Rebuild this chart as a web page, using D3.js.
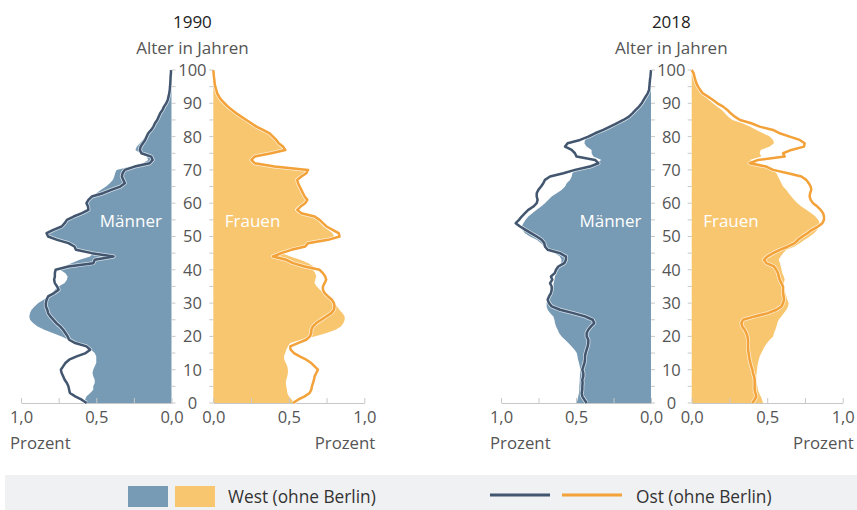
<!DOCTYPE html>
<html>
<head>
<meta charset="utf-8">
<script src="https://cdn.jsdelivr.net/npm/d3@7"></script>
<style>
  body { margin: 0; background: #fff; }
  svg { display: block; font-family: "Open Sans", sans-serif; }
</style>
</head>
<body>
<svg id="chart" width="857" height="510"></svg>
<script>
// ages 0..100, one value (percent of total population) per single year of age
const ages = d3.range(0, 101);
const ageLabels = [0, 10, 20, 30, 40, 50, 60, 70, 80, 90, 100];
const ageTicks = [0, 5, 10, 15, 20, 25, 30, 35, 40, 45, 50, 55, 60, 65, 70, 75, 80, 85, 90, 95, 100];
const xTicks = [0, 0.25, 0.5, 0.75, 1];
const xLabels = { 0: "0,0", 0.5: "0,5", 1: "1,0" };
const years = ["1990", "2018"];

const west1990M = [
  0.564, 0.575, 0.564, 0.54, 0.52, 0.52, 0.51, 0.51, 0.52, 0.525,
  0.52, 0.51, 0.50, 0.50, 0.50, 0.51, 0.535, 0.56, 0.63, 0.685,
  0.73, 0.79, 0.845, 0.89, 0.92, 0.94, 0.945, 0.94, 0.93, 0.91,
  0.885, 0.85, 0.82, 0.795, 0.775, 0.75, 0.71, 0.695, 0.69, 0.705,
  0.74, 0.71, 0.665, 0.61, 0.54, 0.525, 0.63, 0.645, 0.685, 0.755,
  0.815, 0.82, 0.78, 0.73, 0.71, 0.695, 0.65, 0.585, 0.55, 0.555,
  0.565, 0.55, 0.525, 0.50, 0.47, 0.435, 0.41, 0.39, 0.38, 0.375,
  0.365, 0.275, 0.19, 0.155, 0.165, 0.205, 0.24, 0.23, 0.21, 0.19,
  0.175, 0.155, 0.14, 0.125, 0.11, 0.095, 0.085, 0.075, 0.065, 0.05,
  0.035, 0.025, 0.016, 0.014, 0.012, 0.01, 0.009, 0.008, 0.006, 0.005, 0.003
];
const ost1990M = [
  0.564, 0.597, 0.64, 0.675, 0.68, 0.685, 0.695, 0.71, 0.72, 0.73,
  0.735, 0.72, 0.705, 0.68, 0.63, 0.57, 0.54, 0.565, 0.64, 0.68,
  0.69, 0.705, 0.72, 0.74, 0.765, 0.785, 0.805, 0.82, 0.825, 0.835,
  0.835, 0.83, 0.82, 0.78, 0.75, 0.76, 0.775, 0.78, 0.775, 0.775,
  0.77, 0.685, 0.52, 0.51, 0.385, 0.53, 0.635, 0.645, 0.685, 0.76,
  0.82, 0.83, 0.785, 0.73, 0.71, 0.695, 0.65, 0.595, 0.552, 0.555,
  0.565, 0.552, 0.53, 0.455, 0.40, 0.34, 0.31, 0.32, 0.33, 0.325,
  0.31, 0.245, 0.145, 0.125, 0.135, 0.20, 0.21, 0.205, 0.19, 0.175,
  0.165, 0.155, 0.135, 0.12, 0.11, 0.095, 0.085, 0.075, 0.06, 0.05,
  0.035, 0.025, 0.02, 0.015, 0.012, 0.01, 0.008, 0.007, 0.006, 0.004, 0.003
];
const west1990F = [
  0.54, 0.52, 0.50, 0.49, 0.488, 0.483, 0.48, 0.483, 0.49, 0.494,
  0.494, 0.49, 0.48, 0.47, 0.468, 0.476, 0.483, 0.494, 0.51, 0.58,
  0.67, 0.75, 0.81, 0.845, 0.862, 0.87, 0.87, 0.855, 0.835, 0.82,
  0.80, 0.78, 0.76, 0.735, 0.705, 0.685, 0.67, 0.675, 0.682, 0.675,
  0.66, 0.665, 0.63, 0.575, 0.51, 0.455, 0.51, 0.60, 0.62, 0.745,
  0.80, 0.79, 0.76, 0.73, 0.71, 0.69, 0.66, 0.57, 0.54, 0.56,
  0.60, 0.615, 0.60, 0.59, 0.585, 0.575, 0.57, 0.565, 0.585, 0.61,
  0.62, 0.40, 0.28, 0.26, 0.28, 0.36, 0.46, 0.45, 0.43, 0.415,
  0.39, 0.37, 0.33, 0.285, 0.252, 0.219, 0.185, 0.152, 0.124, 0.097,
  0.075, 0.053, 0.038, 0.026, 0.02, 0.013, 0.009, 0.007, 0.004, 0.002, 0
];
const ost1990F = [
  0.528, 0.561, 0.605, 0.638, 0.649, 0.653, 0.66, 0.667, 0.671, 0.682,
  0.693, 0.671, 0.649, 0.616, 0.572, 0.534, 0.512, 0.51, 0.56, 0.615,
  0.64, 0.649, 0.649, 0.66, 0.682, 0.715, 0.748, 0.781, 0.799, 0.803,
  0.799, 0.786, 0.76, 0.737, 0.726, 0.726, 0.737, 0.748, 0.741, 0.726,
  0.704, 0.605, 0.528, 0.483, 0.395, 0.45, 0.517, 0.609, 0.627, 0.76,
  0.836, 0.83, 0.79, 0.75, 0.726, 0.704, 0.671, 0.583, 0.556, 0.578,
  0.609, 0.623, 0.605, 0.594, 0.583, 0.572, 0.561, 0.556, 0.583, 0.616,
  0.627, 0.406, 0.274, 0.252, 0.274, 0.384, 0.477, 0.461, 0.433, 0.417,
  0.395, 0.373, 0.329, 0.285, 0.252, 0.219, 0.185, 0.152, 0.124, 0.097,
  0.075, 0.053, 0.038, 0.026, 0.02, 0.013, 0.009, 0.007, 0.004, 0.002, 0
];
const west2018M = [
  0.495, 0.49, 0.485, 0.48, 0.478, 0.478, 0.476, 0.475, 0.474, 0.472,
  0.47, 0.475, 0.48, 0.486, 0.49, 0.495, 0.51, 0.529, 0.551, 0.573,
  0.596, 0.613, 0.622, 0.633, 0.64, 0.644, 0.651, 0.673, 0.689, 0.696,
  0.696, 0.689, 0.673, 0.662, 0.658, 0.651, 0.649, 0.644, 0.64, 0.636,
  0.629, 0.613, 0.60, 0.596, 0.607, 0.64, 0.689, 0.711, 0.733, 0.762,
  0.807, 0.84, 0.858, 0.862, 0.851, 0.836, 0.818, 0.791, 0.762, 0.733,
  0.707, 0.684, 0.662, 0.629, 0.596, 0.573, 0.562, 0.54, 0.529, 0.524,
  0.507, 0.44, 0.373, 0.33, 0.384, 0.396, 0.396, 0.43, 0.444, 0.44,
  0.42, 0.36, 0.30, 0.255, 0.21, 0.165, 0.135, 0.11, 0.09, 0.07,
  0.05, 0.04, 0.03, 0.02, 0.012, 0.01, 0.008, 0.006, 0.004, 0.002, 0
];
const ost2018M = [
  0.429, 0.444, 0.458, 0.462, 0.458, 0.458, 0.456, 0.458, 0.451, 0.451,
  0.458, 0.451, 0.444, 0.44, 0.44, 0.436, 0.429, 0.422, 0.418, 0.418,
  0.429, 0.429, 0.418, 0.40, 0.378, 0.389, 0.44, 0.518, 0.607, 0.662,
  0.68, 0.689, 0.68, 0.667, 0.662, 0.662, 0.673, 0.658, 0.667, 0.642,
  0.633, 0.618, 0.578, 0.567, 0.567, 0.607, 0.689, 0.707, 0.711, 0.729,
  0.762, 0.80, 0.836, 0.873, 0.902, 0.88, 0.862, 0.84, 0.818, 0.784,
  0.762, 0.756, 0.762, 0.762, 0.751, 0.733, 0.718, 0.707, 0.673, 0.584,
  0.507, 0.407, 0.351, 0.373, 0.496, 0.507, 0.529, 0.573, 0.556, 0.473,
  0.418, 0.373, 0.318, 0.273, 0.229, 0.184, 0.147, 0.124, 0.102, 0.08,
  0.062, 0.049, 0.036, 0.022, 0.013, 0.011, 0.009, 0.007, 0.004, 0.002, 0
];
const west2018F = [
  0.472, 0.466, 0.457, 0.446, 0.439, 0.435, 0.43, 0.428, 0.428, 0.43,
  0.433, 0.435, 0.439, 0.444, 0.45, 0.461, 0.472, 0.483, 0.499, 0.517,
  0.539, 0.545, 0.554, 0.561, 0.567, 0.576, 0.594, 0.611, 0.627, 0.638,
  0.642, 0.633, 0.627, 0.62, 0.611, 0.605, 0.609, 0.616, 0.61, 0.60,
  0.595, 0.59, 0.585, 0.576, 0.589, 0.605, 0.627, 0.682, 0.715, 0.748,
  0.781, 0.81, 0.832, 0.843, 0.848, 0.837, 0.819, 0.792, 0.759, 0.726,
  0.70, 0.678, 0.66, 0.642, 0.627, 0.605, 0.594, 0.583, 0.572, 0.561,
  0.539, 0.506, 0.439, 0.384, 0.461, 0.45, 0.457, 0.517, 0.545, 0.539,
  0.517, 0.472, 0.428, 0.384, 0.335, 0.27, 0.24, 0.22, 0.20, 0.17,
  0.14, 0.115, 0.09, 0.065, 0.048, 0.035, 0.025, 0.02, 0.015, 0.01, 0
];
const ost2018F = [
  0.402, 0.417, 0.428, 0.422, 0.417, 0.417, 0.417, 0.417, 0.413, 0.406,
  0.402, 0.395, 0.389, 0.384, 0.38, 0.377, 0.373, 0.373, 0.373, 0.373,
  0.369, 0.362, 0.351, 0.335, 0.329, 0.34, 0.417, 0.506, 0.561, 0.594,
  0.605, 0.611, 0.609, 0.605, 0.605, 0.605, 0.594, 0.583, 0.576, 0.572,
  0.56, 0.545, 0.494, 0.478, 0.501, 0.539, 0.583, 0.638, 0.682, 0.704,
  0.733, 0.766, 0.797, 0.837, 0.865, 0.876, 0.876, 0.87, 0.854, 0.832,
  0.804, 0.788, 0.781, 0.784, 0.792, 0.788, 0.775, 0.759, 0.726, 0.638,
  0.539, 0.494, 0.384, 0.44, 0.616, 0.605, 0.66, 0.744, 0.748, 0.715,
  0.649, 0.583, 0.539, 0.45, 0.395, 0.32, 0.285, 0.258, 0.236, 0.208,
  0.17, 0.141, 0.108, 0.073, 0.057, 0.042, 0.031, 0.024, 0.018, 0.013, 0
];

const colWestM = "#789bb5", colWestF = "#f8c66f";
const colOstM = "#42566f", colOstF = "#f3a139";
const textCol = "#555", axisCol = "#c8c8c8";

const svg = d3.select("#chart");

const panels = [
  { year: years[0], mOuter: 21, mZero: 171.5, fZero: 213.3, fOuter: 364.3,
    westM: west1990M, ostM: ost1990M, westF: west1990F, ostF: ost1990F },
  { year: years[1], mOuter: 501, mZero: 651, fZero: 691.7, fOuter: 842.7,
    westM: west2018M, ostM: ost2018M, westF: west2018F, ostF: ost2018F }
];

const y = d3.scaleLinear().domain([0, 100]).range([403, 70]);

panels.forEach(p => {
  const g = svg.append("g");
  const xM = d3.scaleLinear().domain([0, 1]).range([p.mZero, p.mOuter]);
  const xF = d3.scaleLinear().domain([0, 1]).range([p.fZero, p.fOuter]);
  const cx = (p.mZero + p.fZero) / 2;

  // West as filled areas
  const drawArea = (x, vals, col) => {
    g.append("path")
      .datum(ages)
      .attr("d", d3.area().y(a => y(a)).x0(x(0)).x1(a => x(vals[a])))
      .attr("fill", col);
  };
  drawArea(xM, p.westM, colWestM);
  drawArea(xF, p.westF, colWestF);

  // x axes (percent)
  [xM, xF].forEach(x => {
    const ax = g.append("g")
      .attr("transform", "translate(0,403)")
      .call(d3.axisBottom(x).tickValues(xTicks).tickSizeInner(-5).tickSizeOuter(0).tickPadding(8)
        .tickFormat(d => xLabels[d] || ""));
    ax.select(".domain").attr("stroke", axisCol);
    ax.selectAll(".tick line").attr("stroke", axisCol);
    ax.selectAll("text").attr("fill", textCol).style("font-size", "16.5px")
      .style("font-family", "'Open Sans', sans-serif");
  });

  // Ost as lines with a thin white casing
  const drawLine = (x, vals, col) => {
    const line = d3.line().x(a => x(vals[a])).y(a => y(a));
    g.append("path").datum(ages).attr("d", line)
      .attr("fill", "none").attr("stroke", "#fff").attr("stroke-width", 4)
      .attr("stroke-linejoin", "round").attr("stroke-opacity", 0.7);
    g.append("path").datum(ages).attr("d", line)
      .attr("fill", "none").attr("stroke", col).attr("stroke-width", 2.5)
      .attr("stroke-linejoin", "round");
  };
  drawLine(xM, p.ostM, colOstM);
  drawLine(xF, p.ostF, colOstF);

  // age ticks on both sides of the centre column
  g.selectAll(".tl").data(ageTicks).enter().append("line")
    .attr("x1", p.mZero).attr("x2", p.mZero + 4)
    .attr("y1", d => y(d)).attr("y2", d => y(d))
    .attr("stroke", axisCol);
  g.selectAll(".tr").data(ageTicks).enter().append("line")
    .attr("x1", p.fZero - 4).attr("x2", p.fZero)
    .attr("y1", d => y(d)).attr("y2", d => y(d))
    .attr("stroke", axisCol);
  g.selectAll(".al").data(ageLabels).enter().append("text")
    .attr("x", cx).attr("y", d => y(d))
    .attr("dy", "0.36em")
    .attr("text-anchor", "middle")
    .attr("fill", textCol)
    .style("font-size", "16.5px")
    .text(d => d);

  // titles
  g.append("text").attr("x", cx).attr("y", 28).attr("text-anchor", "middle")
    .attr("fill", "#222").style("font-size", "17px").text(p.year);
  g.append("text").attr("x", cx).attr("y", 53.5).attr("text-anchor", "middle")
    .attr("fill", textCol).style("font-size", "17px").text("Alter in Jahren");

  // Prozent labels
  g.append("text").attr("x", p.mOuter - 11).attr("y", 449)
    .attr("fill", textCol).style("font-size", "16.8px").text("Prozent");
  g.append("text").attr("x", p.fOuter + 11).attr("y", 449).attr("text-anchor", "end")
    .attr("fill", textCol).style("font-size", "16.8px").text("Prozent");

  // sex labels inside the areas
  g.append("text").attr("x", xM(0.27)).attr("y", 226.5).attr("text-anchor", "middle")
    .attr("fill", "#fff").style("font-size", "17px").text("Männer");
  g.append("text").attr("x", xF(0.26)).attr("y", 226.5).attr("text-anchor", "middle")
    .attr("fill", "#fff").style("font-size", "17px").text("Frauen");
});

// legend band
const lg = svg.append("g");
lg.append("rect").attr("x", 5).attr("y", 475).attr("width", 852).attr("height", 35).attr("fill", "#f0f1f3");
lg.append("rect").attr("x", 128).attr("y", 486).attr("width", 40).attr("height", 21).attr("fill", colWestM);
lg.append("rect").attr("x", 175).attr("y", 486).attr("width", 40).attr("height", 21).attr("fill", colWestF);
lg.append("text").attr("x", 228).attr("y", 503).attr("fill", "#333").style("font-size", "17.3px").text("West (ohne Berlin)");
lg.append("line").attr("x1", 490).attr("x2", 550).attr("y1", 495).attr("y2", 495)
  .attr("stroke", colOstM).attr("stroke-width", 3);
lg.append("line").attr("x1", 562).attr("x2", 622).attr("y1", 495).attr("y2", 495)
  .attr("stroke", colOstF).attr("stroke-width", 3);
lg.append("text").attr("x", 636).attr("y", 503).attr("fill", "#333").style("font-size", "17.3px").text("Ost (ohne Berlin)");
</script>
</body>
</html>
